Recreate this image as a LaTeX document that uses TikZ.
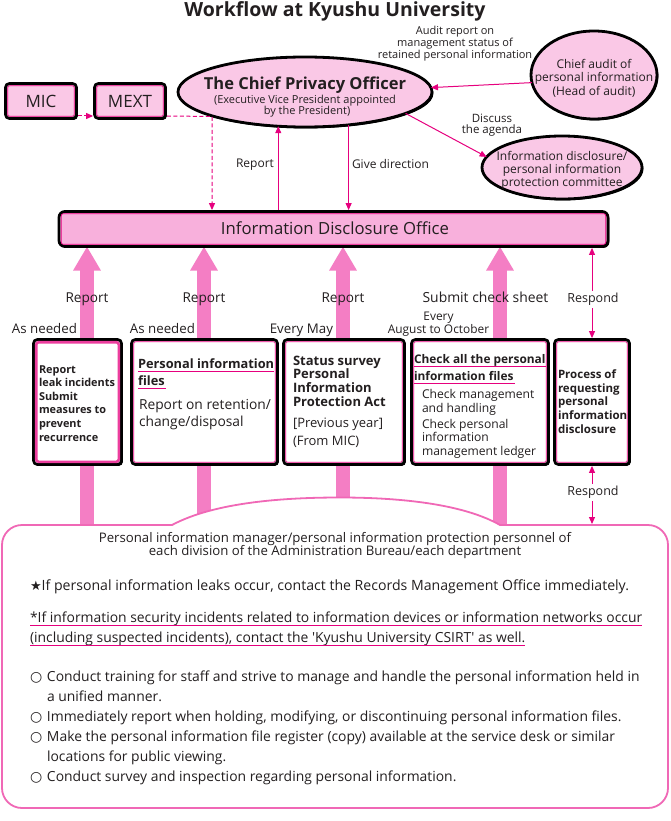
\documentclass[tikz,border=0pt]{standalone}
\usepackage{fontspec}
\setmainfont{Open Sans}[Ligatures=TeXOff]
\newfontfamily\symfont{DejaVu Sans}
\usetikzlibrary{arrows.meta,shapes.geometric,shadows,calc}
\definecolor{mag}{HTML}{E6007E}
\definecolor{lpink}{HTML}{FAC8E6}
\definecolor{mpink}{HTML}{F8B0DC}
\definecolor{fatpink}{HTML}{F47EC4}
\definecolor{hotpink}{HTML}{EC3E9E}
\definecolor{edgepink}{HTML}{F068B6}
\definecolor{ink}{HTML}{231F20}
\pgfdeclarelayer{back}
\pgfdeclarelayer{mid}
\pgfsetlayers{back,mid,main}
\newcommand{\fsz}[2]{\fontsize{#1}{#2}\selectfont}
\begin{document}
\begin{tikzpicture}[x=1pt,y=-1pt,
  every node/.style={text=ink, inner sep=0pt, outer sep=0pt},
  shade/.style={drop shadow={shadow xshift=1.4pt,shadow yshift=-1.4pt,opacity=1,fill=black}},
  blackbox/.style={draw=black, line width=2.8pt, rounded corners=4pt, shade},
  oval/.style={ellipse, draw=black, line width=2.8pt, fill=lpink, shade},
  innerline/.style={draw=mag, line width=0.7pt, rounded corners=2pt},
  pline/.style={draw=mag, line width=1pt},
  tipA/.tip={Triangle[width=6pt,length=7pt]},
  parrow/.style={pline, -tipA},
  dparrow/.style={pline, tipA-tipA},
  dasharrow/.style={pline, dash pattern=on 4pt off 2.5pt, -tipA},
  fatarrow/.style={draw=fatpink, line width=14pt, -{Triangle[width=26pt,length=24pt]}},
  ul/.style={draw=mag, line width=0.8pt},
  btxt/.style={font=\fsz{13.9}{16}},
]
\useasboundingbox (0,0) rectangle (670,821);
\begin{pgfonlayer}{back}
\fill[white] (0,0) rectangle (670,821);
\end{pgfonlayer}

% title
\node[anchor=base, font=\bfseries\fsz{19.5}{22}] (title) at (335,17) {Workflow at Kyushu University};

% MIC / MEXT
\node[blackbox, fill=lpink, minimum width=71pt, minimum height=35pt] (mic) at (41,101) {};
\node[blackbox, fill=lpink, minimum width=71pt, minimum height=35pt] (mext) at (130,101) {};
\node[anchor=base, font=\fsz{17}{19}] (mictx) at (41,107.5) {MIC};
\node[anchor=base, font=\fsz{17}{19}] (mexttx) at (130,107.5) {MEXT};

% Chief Privacy Officer
\node[oval, minimum width=254pt, minimum height=70pt] (cpo) at (305,92) {};
\node[anchor=base, font=\bfseries\fsz{16.5}{18}] (cpot) at (305,89.5) {The Chief Privacy Officer};
\node[anchor=base, font=\fsz{11}{11}] (cpos1) at (305,103.5) {(Executive Vice President appointed};
\node[anchor=base, font=\fsz{11}{11}] (cpos2) at (307,114.5) {by the President)};

% Chief audit
\node[oval, minimum width=126pt, minimum height=88pt] (audit) at (594,75) {};
\node[anchor=base, font=\fsz{12}{12}] (au1) at (594,68.5) {Chief audit of};
\node[anchor=base, font=\fsz{12}{12}] (au2) at (594,82) {personal information};
\node[anchor=base, font=\fsz{12}{12}] (au3) at (594,96) {(Head of audit)};

% committee
\node[oval, minimum width=160pt, minimum height=63pt] (comm) at (562,167.5) {};
\node[anchor=base, font=\fsz{12}{12}] (co1) at (562,160.5) {Information disclosure/};
\node[anchor=base, font=\fsz{12}{12}] (co2) at (562,173.5) {personal information};
\node[anchor=base, font=\fsz{12}{12}] (co3) at (562,186.3) {protection committee};

% Information Disclosure Office
\node[blackbox, fill=mpink, rounded corners=6pt, minimum width=549pt, minimum height=35pt] (ido) at (333.5,229) {};
\node[anchor=base, font=\fsz{16.7}{18}] (idot) at (335,234.5) {Information Disclosure Office};

% middle boxes
\node[blackbox, fill=white, minimum width=88pt, minimum height=125pt] (b1) at (77.5,402) {};
\node[blackbox, fill=white, minimum width=146pt, minimum height=125pt] (b2) at (204.5,402) {};
\node[blackbox, fill=white, minimum width=121pt, minimum height=125pt] (b3) at (344,402) {};
\node[blackbox, fill=white, minimum width=137pt, minimum height=125pt] (b4) at (480,402) {};
\node[blackbox, fill=white, minimum width=75pt, minimum height=125pt] (b5) at (592,402) {};

% inner outlines
\foreach \n in {mic,mext,ido,b2,b3,b4,b5}{
  \draw[innerline] ([shift={(2.2pt,-2.2pt)}]\n.north west) rectangle ([shift={(-2.2pt,2.2pt)}]\n.south east);
}
\draw[draw=hotpink, line width=2.6pt, rounded corners=2.5pt] ([shift={(2.7pt,-2.7pt)}]b1.north west) rectangle ([shift={(-2.7pt,2.7pt)}]b1.south east);

% box texts
\node[anchor=west, align=left, font=\bfseries\fsz{10.9}{13.6}] (t1) at (39,403.3) {Report\\leak incidents\\Submit\\measures to\\prevent\\recurrence};

\node[anchor=base west, font=\bfseries\fsz{12.8}{14}] (t2a) at (138,368) {Personal information};
\node[anchor=base west, font=\bfseries\fsz{12.8}{14}] (t2b) at (138,385) {files};
\draw[ul] ([yshift=-3.5pt]t2a.base west) -- ([yshift=-3.5pt]t2a.base east);
\draw[ul] ([yshift=-3.5pt]t2b.base west) -- ([shift={(1.5pt,-3.5pt)}]t2b.base east);
\node[anchor=west, align=left, font=\fsz{13.8}{17}] (t2c) at (139,415) {Report on retention/\\change/disposal};

\node[anchor=west, align=left, font=\bfseries\fsz{13}{13.7}] (t3a) at (293,381) {Status survey\\Personal\\Information\\Protection Act};
\node[anchor=west, align=left, font=\fsz{13}{18}] (t3b) at (293,432.5) {[Previous year]\\(From MIC)};

\node[anchor=base west, font=\bfseries\fsz{11.9}{14}] (t4a) at (414,363) {Check all the personal};
\node[anchor=base west, font=\bfseries\fsz{11.9}{14}] (t4b) at (414,380) {information files};
\draw[ul] ([yshift=-3pt]t4a.base west) -- ([yshift=-3pt]t4a.base east);
\draw[ul] ([yshift=-3pt]t4b.base west) -- ([shift={(1.5pt,-3pt)}]t4b.base east);
\node[anchor=west, align=left, font=\fsz{12.1}{14}] (t4c) at (422,402) {Check management\\and handling};
\node[anchor=west, align=left, font=\fsz{12.1}{13.5}] (t4d) at (422,438.5) {Check personal\\information\\management ledger};

\node[anchor=west, align=left, font=\bfseries\fsz{11.5}{13.75}] (t5) at (558,401.5) {Process of\\requesting\\personal\\information\\disclosure};

% bottom box
\coordinate (pim) at (335,525);
\draw[draw=edgepink, line width=1.8pt, fill=white]
  (172,525) .. controls (215,502) and (285,497.5) .. (340,497.5)
  .. controls (405,497.5) and (465,505) .. (500,525)
  [rounded corners=20pt] -- (668,525) -- (668,808) -- (2,808) -- (2,525) -- (172,525);

% fat arrows
\coordinate (f1) at (87,560);
\coordinate (f2) at (204,560);
\coordinate (f3) at (343,560);
\coordinate (f4) at (500,560);
\begin{pgfonlayer}{mid}
\foreach \f in {f1,f2,f3,f4}{
  \draw[fatarrow] (\f) -- (\f |- ido.south);
}
\end{pgfonlayer}

% bottom text
\node[anchor=base, font=\fsz{13.2}{14}] (bt1) at (335,542) {Personal information manager/personal information protection personnel of};
\node[anchor=base, font=\fsz{13.2}{14}] (bt2) at (335,555.5) {each division of the Administration Bureau/each department};
\node[anchor=base west, font=\fsz{14.1}{16}] (bt3) at (30,590) {{\symfont\fsz{13}{14}★}If personal information leaks occur, contact the Records Management Office immediately.};
\node[anchor=base west, btxt] (bt4) at (30,622.5) {*If information security incidents related to information devices or information networks occur};
\node[anchor=base west, btxt] (bt5) at (30,642) {(including suspected incidents), contact the 'Kyushu University CSIRT' as well.};
\draw[ul] ([yshift=-3pt]bt4.base west) -- ([yshift=-3pt]bt4.base east);
\draw[ul] ([yshift=-3pt]bt5.base west) -- ([yshift=-3pt]bt5.base east);
\node[anchor=base west, btxt] (bl1) at (30,681) {\makebox[17pt][l]{\symfont\fsz{14}{14}○}Conduct training for staff and strive to manage and handle the personal information held in};
\node[anchor=base west, btxt] (bl1b) at (47,701) {a unified manner.};
\node[anchor=base west, btxt] (bl2) at (30,721) {\makebox[17pt][l]{\symfont\fsz{14}{14}○}Immediately report when holding, modifying, or discontinuing personal information files.};
\node[anchor=base west, btxt] (bl3) at (30,741) {\makebox[17pt][l]{\symfont\fsz{14}{14}○}Make the personal information file register (copy) available at the service desk or similar};
\node[anchor=base west, btxt] (bl3b) at (47,761) {locations for public viewing.};
\node[anchor=base west, btxt] (bl4) at (30,781) {\makebox[17pt][l]{\symfont\fsz{14}{14}○}Conduct survey and inspection regarding personal information.};

% thin connectors
\coordinate (dcorner) at (212,116.5);
\draw[dasharrow, shorten <=1.4pt, shorten >=1.4pt] ([yshift=2.5pt]mic.south east) -- ([yshift=2.5pt]mext.south west);
\draw[dasharrow, shorten >=1.4pt] ([shift={(1.4pt,2.5pt)}]mext.south east) -- (dcorner) -- (dcorner |- ido.north);
\draw[parrow, shorten <=1.4pt] (cpo.232 |- ido.north) -- (cpo.232);
\draw[parrow, shorten >=1.4pt] (cpo.323) -- (cpo.323 |- ido.north);
\draw[parrow] (audit.187) -- (cpo.2);
\draw[parrow] (cpo.348) -- (comm.172);
\draw[dparrow, shorten <=1.4pt, shorten >=1.4pt] (b5.north |- ido.south) -- (b5.north);
\draw[dparrow, shorten <=1.4pt, shorten >=1pt] (b5.south) -- (b5.south |- pim);

% labels
\node[anchor=base, font=\fsz{12}{13}] (lrep) at (255,167.5) {Report};
\node[anchor=base west, font=\fsz{12}{13}] (lgive) at (352,168.3) {Give direction};
\node[anchor=base, align=center, font=\fsz{11}{12}] (laud) at (455,58.5) {Audit report on\\management status of\\retained personal information};
\node[anchor=base, align=center, font=\fsz{11.5}{11.5}] (ldis) at (492,134) {Discuss\\the agenda};
\node[anchor=base, font=\fsz{13.6}{15}] (lr1) at (87,302.7) {Report};
\node[anchor=base, font=\fsz{13.6}{15}] (lr2) at (204,302.7) {Report};
\node[anchor=base, font=\fsz{13.6}{15}] (lr3) at (343,302.7) {Report};
\node[anchor=base, font=\fsz{13.9}{15}] (lr4) at (485.5,302.7) {Submit check sheet};
\node[anchor=base, fill=white, inner sep=2pt, font=\fsz{12.5}{14}] (lresp1) at (593,302.7) {Respond};
\node[anchor=base, fill=white, inner sep=2pt, font=\fsz{12.5}{14}] (lresp2) at (593,495.5) {Respond};
\node[anchor=base east, font=\fsz{13.3}{15}] (an1) at (77,333.3) {As needed};
\node[anchor=base east, font=\fsz{13.3}{15}] (an2) at (195,333.3) {As needed};
\node[anchor=base east, font=\fsz{13.3}{15}] (em) at (333,333.3) {Every May};
\node[anchor=base, align=center, font=\fsz{11.9}{11.8}] (eao) at (438.5,333.5) {Every\\August to October};
\end{tikzpicture}
\end{document}
